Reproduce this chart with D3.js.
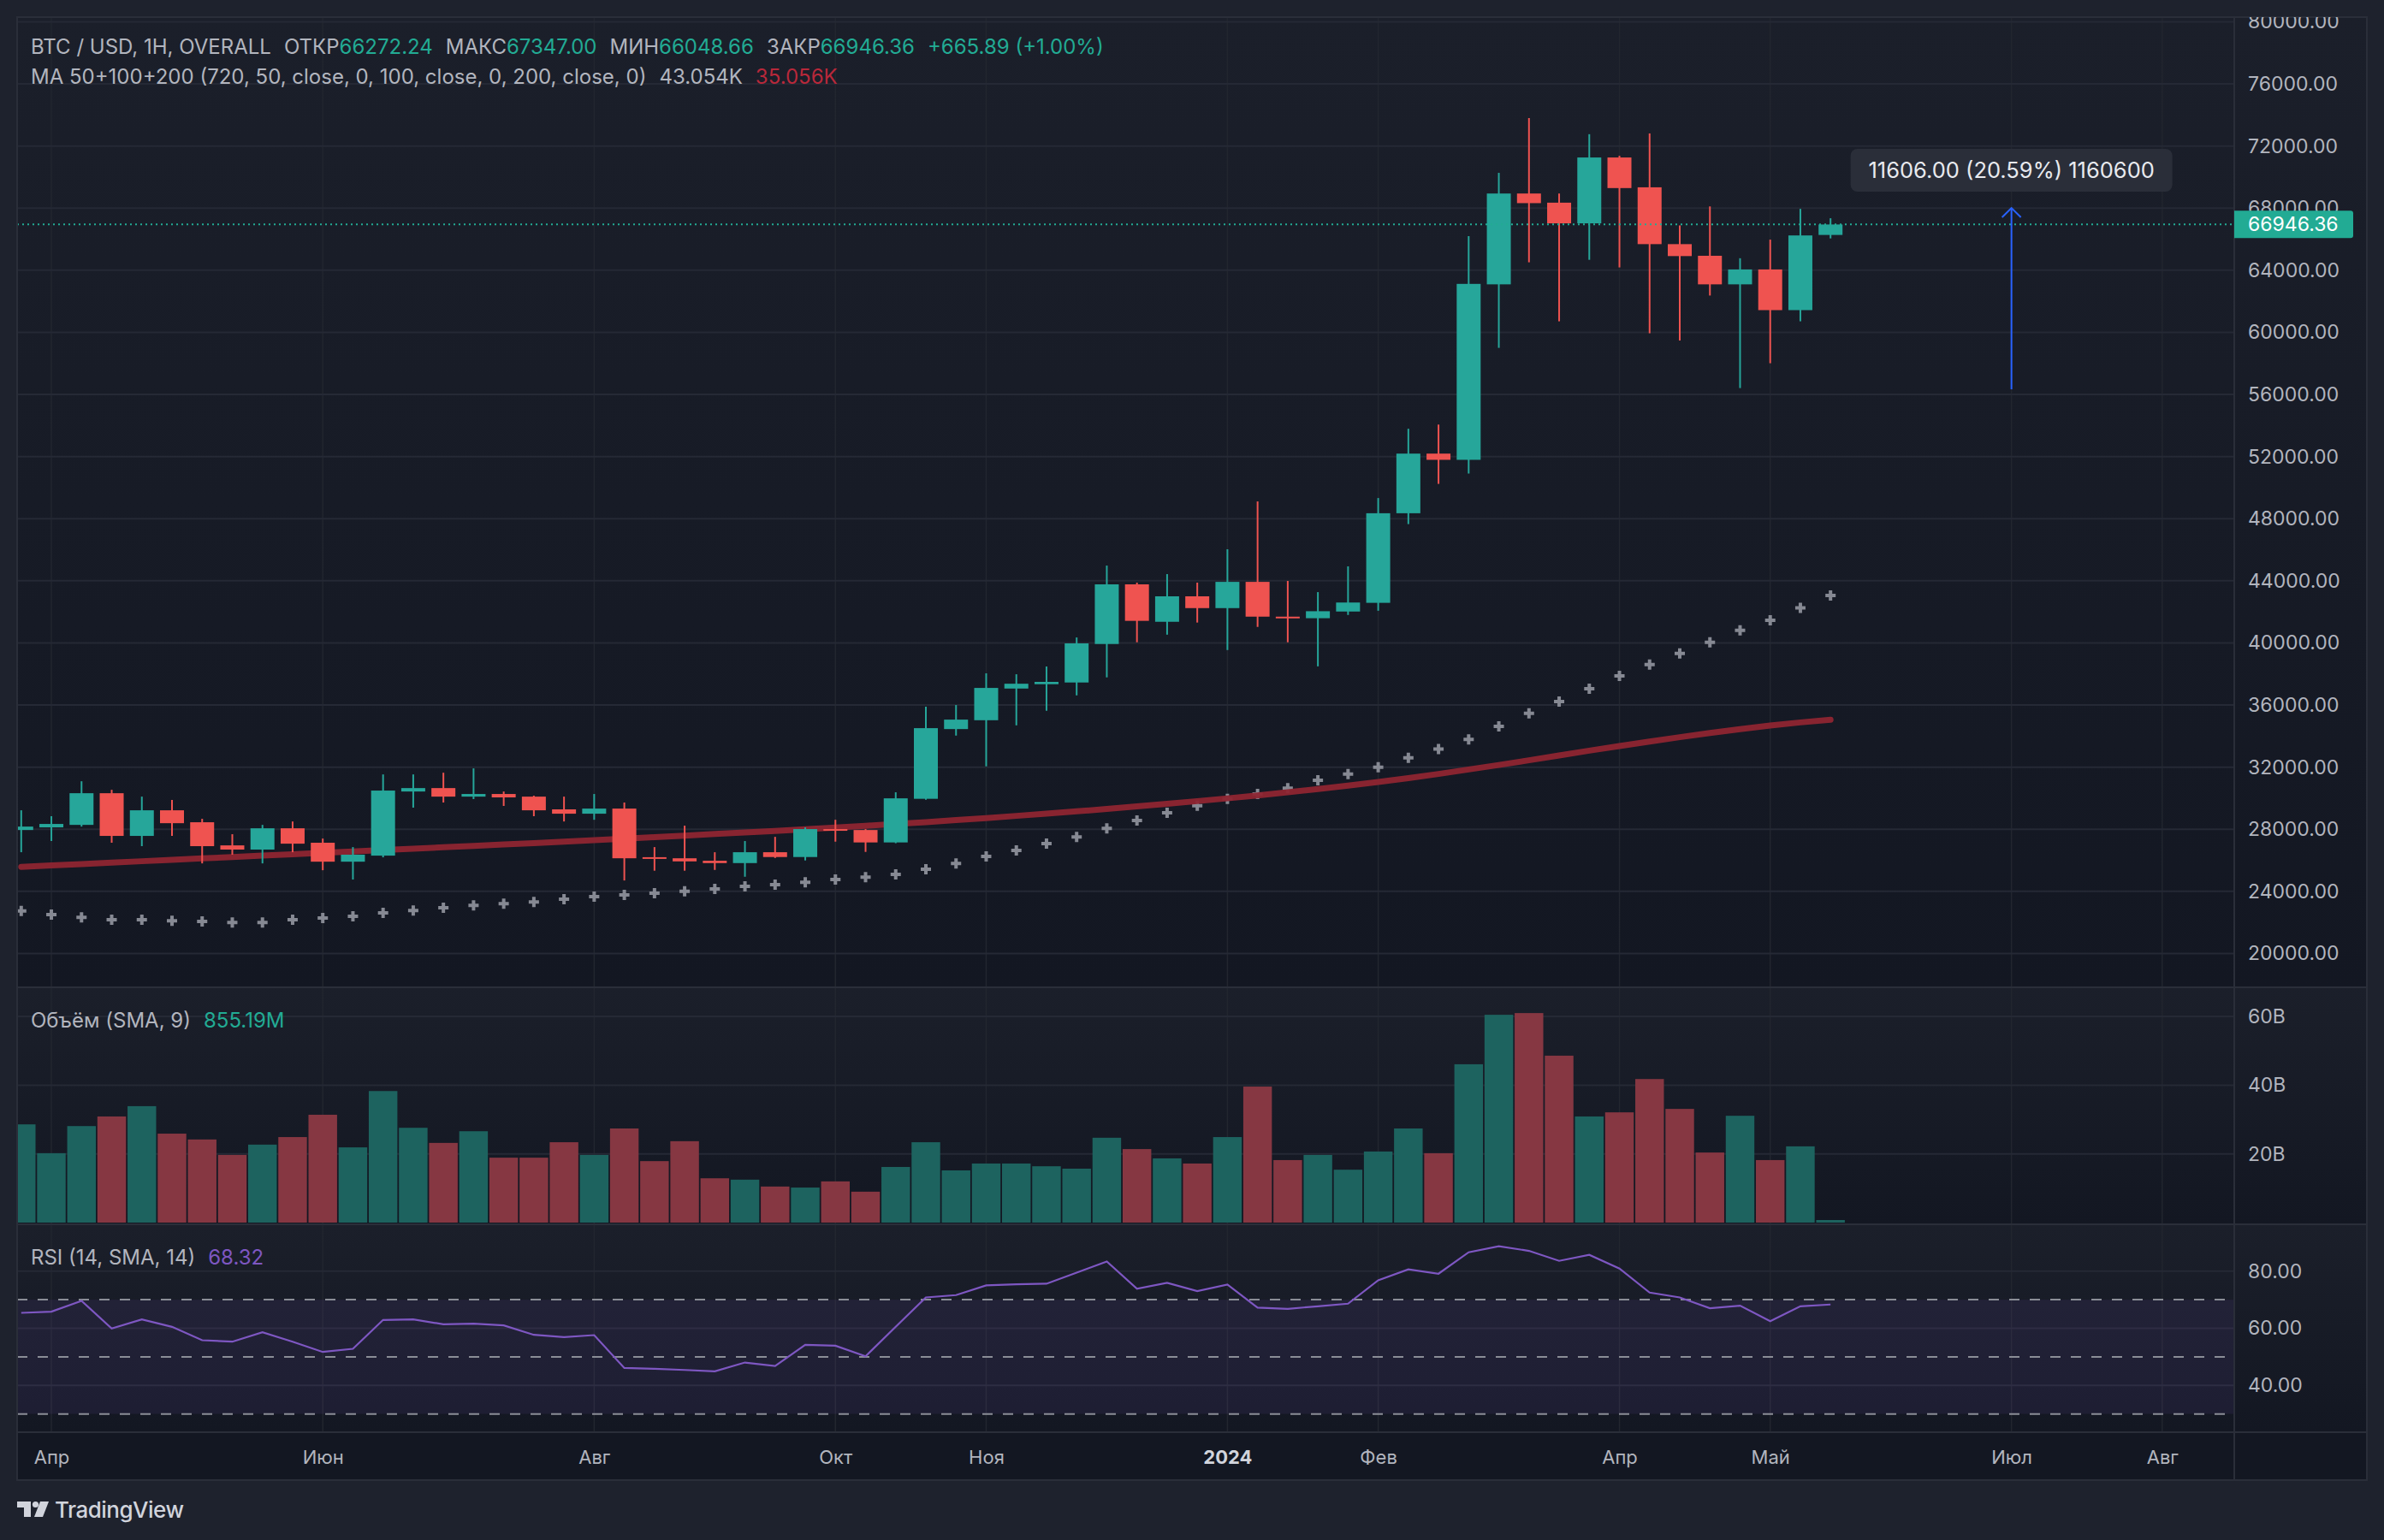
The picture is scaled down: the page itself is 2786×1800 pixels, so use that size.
<!DOCTYPE html>
<html>
<head>
<meta charset="utf-8">
<script src="https://cdn.jsdelivr.net/npm/d3@7"></script>
<style>
  html, body { margin: 0; background: #1e222d; }
  svg { display: block; font-family: Inter, "Noto Sans", sans-serif; }
</style>
</head>
<body>
<svg id="chart"></svg>
<script>
// weekly bars, index 0..60
const opens  = [27950,28120,28280,30320,27570,29220,28450,26960,26690,28060,27130,25910,26300,30430,30650,30100,30270,30100,29280,29000,29330,26200,26130,25970,25820,26520,26210,28010,27950,27150,29960,34450,35020,37060,37340,37450,39930,43770,41360,43000,42240,43930,41690,41590,42020,42580,48350,52190,51790,63090,68940,68350,67020,71260,69340,65680,64930,63090,64050,61430,66272.24];
const highs  = [29220,28840,31090,30540,30100,29880,28670,27680,28280,28500,27400,26850,31530,31530,31640,31920,30430,30160,30100,30270,29720,26850,28230,26520,27240,27510,28120,28610,28010,30380,35890,36000,38040,37980,38480,40350,44980,43880,44430,43880,46030,49110,43990,43270,44930,49330,53790,54060,66190,70270,73800,68940,72760,71370,72810,66880,68110,64770,65970,67950,67347.00];
const lows   = [26520,27240,28170,27130,26910,27570,25800,26360,25800,26520,25360,24760,26190,29390,29720,29940,29500,28840,28500,28610,24700,25330,25330,25380,24940,26150,25990,27200,26540,27100,29900,34030,32050,34690,35630,36620,37780,40040,40530,41310,39540,41030,40040,38490,41800,42070,47650,50240,50910,59000,64510,60710,64670,64180,59940,59480,62370,56410,58010,60710,66048.66];
const closes = [28170,28340,30320,27570,29220,28390,26910,26690,28060,27070,25910,26360,30490,30650,30100,30270,30050,29220,29000,29330,26130,26130,25930,25820,26520,26210,28010,27920,27150,29990,34510,35060,37100,37370,37490,39970,43770,41420,43000,42240,43930,41690,41600,42040,42600,48350,52190,51790,63120,68940,68320,67020,71260,69290,65680,64910,63090,64050,61430,66240,66946.36];

// volume, billions
const volumes = [28.6,20.2,28.1,30.9,33.9,25.9,24.2,19.7,22.7,24.9,31.4,21.9,38.3,27.6,23.2,26.6,18.9,18.9,23.4,19.7,27.4,17.9,23.7,12.9,12.5,10.5,10.2,12.0,9.0,16.2,23.4,15.2,17.2,17.2,16.4,15.7,24.7,21.4,18.7,17.2,24.9,39.6,18.2,19.7,15.4,20.7,27.4,20.2,46.1,60.5,61.0,48.6,30.9,32.1,41.8,33.1,20.4,31.1,18.2,22.2,0.75];

// RSI (14, SMA, 14)
const rsi = [65.4,65.8,69.6,59.9,63.1,60.5,55.8,55.3,58.6,55.3,51.7,52.8,62.9,63.1,61.4,61.6,61.0,57.7,56.9,57.6,46.1,45.8,45.4,44.9,48.0,46.8,54.2,53.9,50.2,60.5,70.8,71.6,75.0,75.4,75.6,79.5,83.4,73.8,75.9,73.0,75.3,67.2,66.8,67.7,68.6,76.8,80.6,79.1,86.6,88.7,87.1,83.6,85.7,80.9,72.5,70.8,67.0,67.9,62.5,67.7,68.32];

// moving averages
const maCross = [22740,22500,22330,22170,22170,22110,22060,22000,22000,22170,22280,22390,22610,22770,22940,23100,23210,23320,23490,23660,23770,23880,24000,24150,24320,24430,24590,24760,24920,25090,25420,25800,26250,26630,27070,27510,28060,28560,29060,29510,29960,30270,30650,31150,31550,32000,32600,33170,33790,34620,35470,36220,37050,37880,38600,39320,40040,40810,41450,42260,43054];
const maLine = [25580,25670,25760,25850,25940,26030,26120,26210,26300,26390,26480,26570,26660,26750,26840,26930,27020,27110,27200,27290,27390,27490,27590,27690,27790,27890,28000,28110,28220,28340,28460,28590,28720,28860,29000,29150,29310,29470,29640,29810,29990,30180,30380,30590,30810,31040,31290,31560,31850,32140,32440,32750,33060,33360,33650,33930,34200,34450,34680,34880,35056];

// time axis
const months   = ['Апр','Июн','Авг','Окт','Ноя','2024','Фев','Апр','Май','Июл','Авг'];
const monthIdx = [1,10,19,27,32,40,45,53,58,66,71];

// measure tool
const measureIdx = 66, measureFrom = 56330, measureTo = 68010;
const measureText = '11606.00 (20.59%) 1160600';

const bars = closes.map((c, i) => ({ i, o: opens[i], h: highs[i], l: lows[i], c, up: c >= opens[i] }));

const W = 2786, H = 1800;
const left = 20, right = 2611, outer = 2766;
const pane = { price: [20, 1154], vol: [1154, 1431], rsi: [1431, 1674], time: [1674, 1730] };
const UP = '#26a69a', DOWN = '#ef5350', TXT = '#b2b5be', GRID = '#252935', BORDER = '#2a2e39';

const svg = d3.select('#chart').attr('width', W).attr('height', H);
svg.append('rect').attr('width', W).attr('height', H).attr('fill', '#1e222d');

const defs = svg.append('defs');
const grad = defs.append('linearGradient').attr('id', 'paneBg').attr('x1', 0).attr('x2', 0).attr('y1', 0).attr('y2', 1);
grad.append('stop').attr('offset', '0%').attr('stop-color', '#1b1f2a');
grad.append('stop').attr('offset', '100%').attr('stop-color', '#131722');
defs.append('clipPath').attr('id', 'plotClip').append('rect')
  .attr('x', left).attr('y', pane.price[0]).attr('width', right - left).attr('height', pane.rsi[1] - pane.price[0]);
defs.append('clipPath').attr('id', 'priceAxisClip').append('rect')
  .attr('x', right).attr('y', pane.price[0]).attr('width', outer - right).attr('height', pane.price[1] - pane.price[0]);

// pane backgrounds
Object.entries(pane).forEach(([k, [y0, y1]]) => {
  svg.append('rect').attr('x', left).attr('y', y0).attr('width', outer - left).attr('height', y1 - y0)
    .attr('fill', k === 'time' ? '#131722' : 'url(#paneBg)');
});

// scales
const x = d3.scaleLinear().domain([0, 71]).range([24.8, 24.8 + 71 * 35.24]);
const y = d3.scaleLinear().domain([17820, 80300]).range([pane.price[1], pane.price[0]]);
const yv = d3.scaleLinear().domain([0, 68.5]).range([1429, pane.vol[0]]);
const yr = d3.scaleLinear().domain([23.6, 96.4]).range([pane.rsi[1], pane.rsi[0]]);
const step = x(1) - x(0);

const priceTicks = d3.range(20000, 80001, 4000);
const volTicks = [20, 40, 60];
const rsiTicks = [40, 60, 80];

// grid
const grid = svg.append('g').attr('clip-path', 'url(#plotClip)');
grid.selectAll('.vg').data(monthIdx).join('line')
  .attr('x1', d => x(d)).attr('x2', d => x(d)).attr('y1', pane.price[0]).attr('y2', pane.rsi[1])
  .attr('stroke', '#22262f').attr('stroke-width', 1.5);
const hgrid = (ticks, sc) => grid.append('g').selectAll('line').data(ticks).join('line')
  .attr('x1', left).attr('x2', right).attr('y1', d => sc(d)).attr('y2', d => sc(d))
  .attr('stroke', GRID).attr('stroke-width', 2);
hgrid(priceTicks, y);
hgrid(volTicks, yv);
hgrid(rsiTicks, yr);

const plot = svg.append('g').attr('clip-path', 'url(#plotClip)');

// MA crosses
plot.append('g').selectAll('path').data(maCross).join('path')
  .attr('transform', (d, i) => `translate(${x(i)},${y(d)})`)
  .attr('d', d3.symbol(d3.symbolCross, 80))
  .attr('fill', '#868993');

// MA thick line
plot.append('path').datum(maLine)
  .attr('d', d3.line().x((d, i) => x(i)).y(d => y(d)))
  .attr('fill', 'none').attr('stroke', '#8e2531').attr('stroke-opacity', 0.95)
  .attr('stroke-width', 7).attr('stroke-linecap', 'round');

// candles
const candle = plot.append('g').selectAll('g').data(bars).join('g');
candle.append('line')
  .attr('x1', d => x(d.i)).attr('x2', d => x(d.i))
  .attr('y1', d => y(d.h)).attr('y2', d => y(d.l))
  .attr('stroke', d => d.up ? UP : DOWN).attr('stroke-width', 2);
candle.append('rect')
  .attr('x', d => x(d.i) - 14).attr('width', 28)
  .attr('y', d => y(Math.max(d.o, d.c)))
  .attr('height', d => Math.max(2, Math.abs(y(d.o) - y(d.c))))
  .attr('fill', d => d.up ? UP : DOWN);

// volume
plot.append('g').selectAll('rect').data(bars).join('rect')
  .attr('x', d => x(d.i) - step / 2 + 0.9).attr('width', step - 1.8)
  .attr('y', d => yv(volumes[d.i])).attr('height', d => yv(0) - yv(volumes[d.i]))
  .attr('fill', d => d.up ? '#1d635f' : '#863742');

// RSI band + levels
plot.append('rect').attr('x', left).attr('width', right - left)
  .attr('y', yr(70)).attr('height', yr(30) - yr(70)).attr('fill', 'rgba(126,87,194,0.1)');
plot.append('g').selectAll('line').data([70, 50, 30]).join('line')
  .attr('x1', left).attr('x2', right).attr('y1', d => yr(d)).attr('y2', d => yr(d))
  .attr('stroke', '#8a8d96').attr('stroke-width', 2).attr('stroke-dasharray', '12,12');
plot.append('path').datum(rsi)
  .attr('d', d3.line().x((d, i) => x(i)).y(d => yr(d)))
  .attr('fill', 'none').attr('stroke', '#7e57c2').attr('stroke-width', 2.2);

// last price line
const last = closes[closes.length - 1];
plot.append('line').attr('x1', left).attr('x2', right).attr('y1', y(last)).attr('y2', y(last))
  .attr('stroke', '#22ab94').attr('stroke-width', 2).attr('stroke-dasharray', '2,4');

// measure tool
const mx = x(measureIdx);
plot.append('line').attr('x1', mx).attr('x2', mx).attr('y1', y(measureFrom)).attr('y2', y(measureTo))
  .attr('stroke', '#2962ff').attr('stroke-width', 2);
plot.append('path')
  .attr('d', `M${mx - 11},${y(measureTo) + 11}L${mx},${y(measureTo)}L${mx + 11},${y(measureTo) + 11}`)
  .attr('fill', 'none').attr('stroke', '#2962ff').attr('stroke-width', 2);
plot.append('rect').attr('x', mx - 188).attr('y', 174).attr('width', 376).attr('height', 50).attr('rx', 8)
  .attr('fill', '#2a2e39');
plot.append('text').attr('x', mx).attr('y', 199).attr('dy', '0.35em').attr('text-anchor', 'middle')
  .attr('fill', '#e8eaef').attr('font-size', 25.5).text(measureText);

// borders
const border = svg.append('g').attr('stroke', BORDER).attr('stroke-width', 2).attr('fill', 'none');
border.append('rect').attr('x', left).attr('y', pane.price[0]).attr('width', outer - left).attr('height', pane.time[1] - pane.price[0]);
[pane.vol[0], pane.rsi[0], pane.time[0]].forEach(v =>
  border.append('line').attr('x1', left).attr('x2', outer).attr('y1', v).attr('y2', v));
border.append('line').attr('x1', right).attr('x2', right).attr('y1', pane.price[0]).attr('y2', pane.time[1]);

// axes
const styleAxis = g => {
  g.select('.domain').remove();
  g.selectAll('text').attr('fill', TXT).attr('font-size', 23).attr('font-family', 'Inter, "Noto Sans", sans-serif');
};
svg.append('g').attr('clip-path', 'url(#priceAxisClip)').append('g')
  .attr('transform', `translate(${right},0)`)
  .call(d3.axisRight(y).tickValues(priceTicks).tickSize(0).tickPadding(16).tickFormat(d => d.toFixed(2)))
  .call(styleAxis);
svg.append('g').attr('transform', `translate(${right},0)`)
  .call(d3.axisRight(yv).tickValues(volTicks).tickSize(0).tickPadding(16).tickFormat(d => d + 'B'))
  .call(styleAxis);
svg.append('g').attr('transform', `translate(${right},0)`)
  .call(d3.axisRight(yr).tickValues(rsiTicks).tickSize(0).tickPadding(16).tickFormat(d => d.toFixed(2)))
  .call(styleAxis);
const tAxis = svg.append('g').attr('transform', `translate(0,${pane.time[0]})`)
  .call(d3.axisBottom(x).tickValues(monthIdx).tickSize(0).tickFormat((d, i) => months[i]))
  .call(styleAxis);
tAxis.selectAll('text').attr('y', 29).attr('dy', '0.35em').attr('font-size', 22)
  .filter((d, i) => months[i] === '2024').attr('font-weight', 700).attr('fill', '#d1d4dc');

// last price tag
const tagY = y(last);
svg.append('path')
  .attr('d', `M${right},${tagY - 16}H${right + 136}a3,3 0 0 1 3,3V${tagY + 13}a3,3 0 0 1 -3,3H${right}Z`)
  .attr('fill', '#22ab94');
svg.append('text').attr('x', right + 16).attr('y', tagY).attr('dy', '0.35em')
  .attr('fill', '#ffffff').attr('font-size', 23).text(last.toFixed(2));

// legends
const legend = (yy, parts) => {
  const t = svg.append('text').attr('x', 36).attr('y', yy).attr('dy', '0.35em').attr('font-size', 24);
  parts.forEach(([s, c, dx]) => t.append('tspan').attr('fill', c).attr('dx', dx || 0).text(s));
};
const VAL = '#22ab94';
legend(55, [
  ['BTC / USD, 1H, OVERALL', TXT], ['ОТКР', TXT, 15], [opens[60].toFixed(2), VAL],
  ['МАКС', TXT, 15], [highs[60].toFixed(2), VAL], ['МИН', TXT, 15], [lows[60].toFixed(2), VAL],
  ['ЗАКР', TXT, 15], [closes[60].toFixed(2), VAL], ['+665.89 (+1.00%)', VAL, 15]
]);
legend(90, [
  ['MA 50+100+200 (720, 50, close, 0, 100, close, 0, 200, close, 0)', TXT],
  ['43.054K', TXT, 15], ['35.056K', '#b8283a', 15]
]);
legend(1193, [['Объём (SMA, 9)', TXT], ['855.19M', VAL, 15]]);
legend(1470, [['RSI (14, SMA, 14)', TXT], ['68.32', '#7e57c2', 15]]);

// TradingView mark
const logo = svg.append('g').attr('fill', '#d1d4dc');
logo.append('path').attr('d', 'M20,1755H36V1773H28V1762H20Z');
logo.append('circle').attr('cx', 41.5).attr('cy', 1758.5).attr('r', 3.6);
logo.append('path').attr('d', 'M47,1755H57L50,1773H40Z');
svg.append('text').attr('x', 64).attr('y', 1765).attr('dy', '0.35em').attr('font-size', 26)
  .attr('font-weight', 500).attr('fill', '#d1d4dc').attr('letter-spacing', -0.5).text('TradingView');
</script>
</body>
</html>
